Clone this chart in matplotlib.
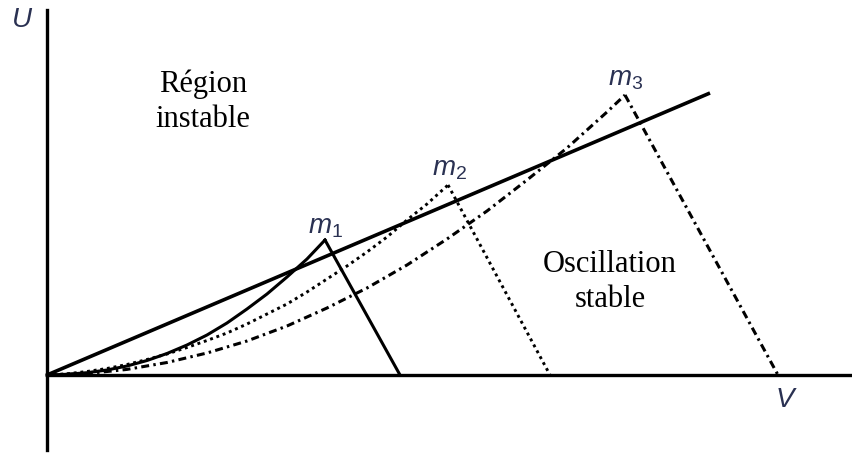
import matplotlib
matplotlib.use("Agg")
import matplotlib.pyplot as plt

plt.rcParams['mathtext.fontset'] = 'custom'
plt.rcParams['mathtext.it'] = 'Liberation Sans:italic'
plt.rcParams['mathtext.rm'] = 'Liberation Sans'

# Boundary line between unstable region and stable oscillation
boundary_v = [0, 663]
boundary_u = [0, 282]

# Trajectory 1 (solid) up to m1, then descent
c1_v = [0, 20, 40, 60, 80, 100, 120, 140, 160, 180, 200, 220, 240, 260, 278]
c1_u = [0, 0.7, 2.3, 5, 9, 14.5, 21.5, 30, 40, 52, 66, 81, 98, 116, 135]
d1_v = [278, 353]
d1_u = [135, 0]

# Trajectory 2 (dotted) up to m2, then descent
c2_v = [0, 20, 40, 60, 80, 100, 120, 140, 160, 180, 200, 220, 240, 260, 280,
        300, 320, 340, 360, 380, 401]
c2_u = [0, 1.2, 3.5, 6.5, 10.5, 15.5, 21, 27.5, 34.5, 42, 51, 61, 71, 83, 96,
        109, 123, 138, 155, 171, 190]
d2_v = [401, 503]
d2_u = [190, 0]

# Trajectory 3 (dash-dot) up to m3, then descent
c3_v = [0, 40, 80, 120, 160, 200, 240, 280, 320, 360, 400, 440, 480, 520, 560, 578]
c3_u = [0, 1.4, 5.6, 12.5, 22, 34, 49, 67, 87, 110, 136, 164, 195, 227, 263, 280]
d3_v = [578, 731]
d3_u = [280, 0]

labels_m = [r'$m_1$', r'$m_2$', r'$m_3$']
labels_m_pos = [(261, 142), (385, 200), (561, 290)]

fig = plt.figure(figsize=(8.53, 4.53), dpi=100)
ax = fig.add_axes([0, 0, 1, 1])
ax.set_xlim(-47, 806)
ax.set_ylim(-78, 375)

for s in ['top', 'right']:
    ax.spines[s].set_visible(False)
ax.spines['left'].set_position(('data', 0))
ax.spines['bottom'].set_position(('data', 0))
ax.spines['left'].set_bounds(-75, 365)
ax.spines['bottom'].set_bounds(0, 806)
for s in ['left', 'bottom']:
    ax.spines[s].set_linewidth(2.4)
    ax.spines[s].set_color('black')
ax.set_xticks([])
ax.set_yticks([])

ax.plot(boundary_v, boundary_u, color='black', lw=2.6, solid_capstyle='butt')

ax.plot(c1_v, c1_u, color='black', lw=2.2)
ax.plot(d1_v, d1_u, color='black', lw=2.2)

ax.plot(c2_v, c2_u, color='black', lw=2.1, linestyle=(0, (1, 1.3)))
ax.plot(d2_v, d2_u, color='black', lw=2.1, linestyle=(0, (1, 1.3)))

ax.plot(c3_v, c3_u, color='black', lw=2.2, linestyle=(0, (2.6, 1.4, 0.8, 1.4)))
ax.plot(d3_v, d3_u, color='black', lw=2.2, linestyle=(0, (2.6, 1.4, 0.8, 1.4)))

lab_color = '#2a3152'
ax.text(-25, 355, 'U', fontsize=20, fontstyle='italic', family='Liberation Sans',
        color=lab_color, ha='center', va='center')
ax.text(738, -25, 'V', fontsize=20, fontstyle='italic', family='Liberation Sans',
        color=lab_color, ha='center', va='center')
for lab, (x, y) in zip(labels_m, labels_m_pos):
    ax.text(x, y, lab, fontsize=20, color=lab_color, ha='left', va='baseline')

serif = 'Liberation Serif'
ax.text(156, 283, 'Région', fontsize=22, family=serif, ha='center', va='baseline')
ax.text(156, 248, 'instable', fontsize=22, family=serif, ha='center', va='baseline')
ax.text(563, 103, 'Oscillation', fontsize=22, family=serif, ha='center', va='baseline')
ax.text(563, 68, 'stable', fontsize=22, family=serif, ha='center', va='baseline')

fig.savefig('out.png', dpi=100)
